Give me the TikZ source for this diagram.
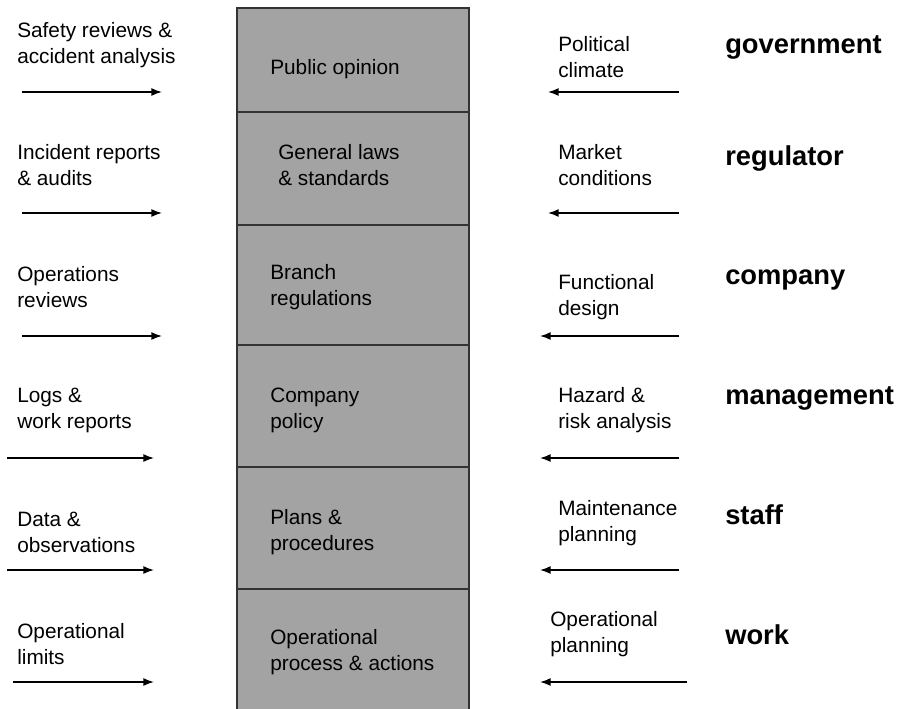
\documentclass[tikz,border=0pt]{standalone}
\usepackage{fontspec}
\setmainfont{Liberation Sans}
\usetikzlibrary{arrows.meta}
\definecolor{levelgray}{HTML}{A3A3A3}
\begin{document}
\begin{tikzpicture}[x=0.75pt,y=-0.75pt,
    txt/.style={anchor=west,align=left,inner sep=0pt,font=\fontsize{15.6}{19.5}\selectfont},
    actor/.style={anchor=west,inner sep=0pt,font=\fontsize{20.5}{24}\selectfont\bfseries},
    flow/.style={-{Latex[length=8pt,width=6pt]},line width=1.1pt}]
    \useasboundingbox (0,0) rectangle (901,708);

    % the column of levels
    \foreach \top/\bot in {8/112,112/225,225/345,345/467,467/589,589/712} {
      \draw[fill=levelgray,line width=0.8pt,draw=black!80] (237,\top) rectangle (469,\bot);
    };
    \node[txt] (opinion) at (270,69) {Public opinion};
    \node[txt] (laws) at (278,165) {General laws\\\& standards};
    \node[txt] (branch) at (270,287) {Branch\\regulations};
    \node[txt] (policy) at (270,410) {Company\\policy};
    \node[txt] (plans) at (270,532) {Plans \&\\procedures};
    \node[txt] (process) at (270,652) {Operational\\process \& actions};

    % feedback, left side
    \node[txt] (safety) at (17,45) {Safety reviews \&\\accident analysis};
    \node[txt] (incident) at (17,165) {Incident reports\\\& audits};
    \node[txt] (opreview) at (17,287) {Operations\\reviews};
    \node[txt] (logs) at (17,410) {Logs \&\\work reports};
    \node[txt] (data) at (17,532) {Data \&\\observations};
    \node[txt] (limits) at (17,644) {Operational\\limits};

    \coordinate (l1a) at (22,92);  \coordinate (l1b) at (162,92);
    \coordinate (l2a) at (22,213); \coordinate (l2b) at (162,213);
    \coordinate (l3a) at (22,336); \coordinate (l3b) at (162,336);
    \coordinate (l4a) at (7,458);  \coordinate (l4b) at (154,458);
    \coordinate (l5a) at (7,570);  \coordinate (l5b) at (154,570);
    \coordinate (l6a) at (13,682); \coordinate (l6b) at (154,682);
    \foreach \i in {1,...,6} {
      \draw[flow] (l\i a) -- (l\i b);
    };

    % control, right side
    \node[txt] (climate) at (558,57) {Political\\climate};
    \node[txt] (market) at (558,165) {Market\\conditions};
    \node[txt] (design) at (558,297) {Functional\\design};
    \node[txt] (hazard) at (558,410) {Hazard \&\\risk analysis};
    \node[txt] (maint) at (558,523) {Maintenance\\planning};
    \node[txt] (opplan) at (550,634) {Operational\\planning};

    \coordinate (r1a) at (679,92);  \coordinate (r1b) at (548,92);
    \coordinate (r2a) at (679,213); \coordinate (r2b) at (548,213);
    \coordinate (r3a) at (679,336); \coordinate (r3b) at (540,336);
    \coordinate (r4a) at (679,458); \coordinate (r4b) at (540,458);
    \coordinate (r5a) at (679,570); \coordinate (r5b) at (540,570);
    \coordinate (r6a) at (687,682); \coordinate (r6b) at (540,682);
    \foreach \i in {1,...,6} {
      \draw[flow] (r\i a) -- (r\i b);
    };

    % levels of the system
    \node[actor] (gov) at (725,47) {government};
    \node[actor] (reg) at (725,158) {regulator};
    \node[actor] (comp) at (725,280) {company};
    \node[actor] (mgmt) at (725,398) {management};
    \node[actor] (staff) at (725,515) {staff};
    \node[actor] (work) at (725,635) {work};
\end{tikzpicture}
\end{document}
